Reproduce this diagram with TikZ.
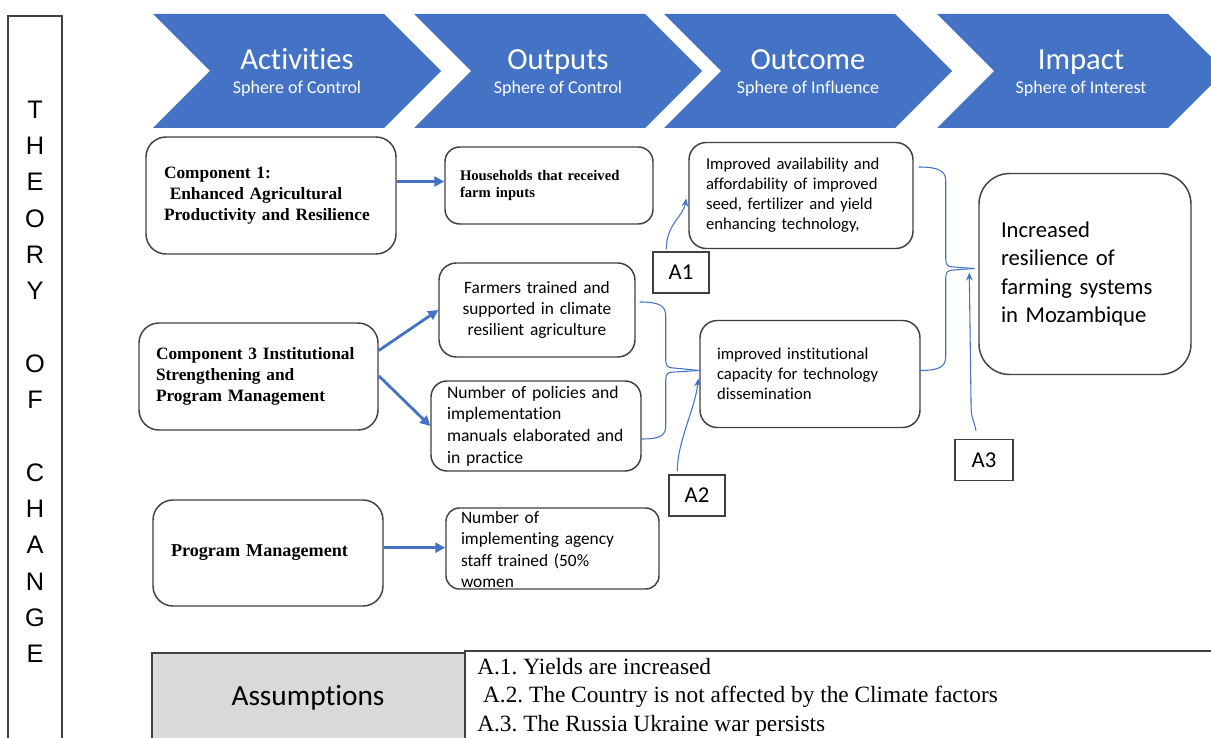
\documentclass[tikz,border=0pt]{standalone}
\usepackage{fontspec}
\setmainfont{Carlito}[Ligatures={NoCommon,NoRare,NoDiscretionary}]
\newfontfamily\timesfont{Liberation Serif}
\newfontfamily\arialfont{Liberation Sans}
\usetikzlibrary{arrows.meta,calc}
\definecolor{chevblue}{HTML}{4472C4}
\definecolor{linkblue}{HTML}{4472C4}
\definecolor{edgegray}{HTML}{404040}
\definecolor{cellgray}{HTML}{D9D9D9}
\newcommand\fsz[2]{\fontsize{#1}{#2}\selectfont}
\frenchspacing

\begin{document}
\begin{tikzpicture}[x=0.75pt,y=-0.75pt,
  rbox/.style={draw=edgegray, line width=1.1pt, rounded corners=12pt, inner ysep=0pt},
  sqbox/.style={draw=edgegray, line width=1.1pt, inner sep=0pt,
    minimum width=42pt, minimum height=30.75pt, font=\fsz{17}{20}},
  bolds/.style={font=\timesfont\bfseries\fsz{13}{16}, align=left},
  bigarrow/.style={draw=chevblue, line width=2.1pt, -{Triangle[length=7.5pt,width=7.5pt]}},
  thinlink/.style={draw=linkblue, line width=0.8pt},
  thinarrow/.style={thinlink, -{Stealth[length=6pt,width=5pt]}}]
\useasboundingbox (0,0) rectangle (1211,738);

% header chevrons
\foreach \x/\ttl/\sph/\nm in {153/Activities/Control/ca, 414/Outputs/Control/co,
                              664/Outcome/Influence/cu, 937/Impact/Interest/ci}{
  \fill[chevblue] (\x,14) -- (\x+231,14) -- (\x+288,71) -- (\x+231,128)
                  -- (\x,128) -- (\x+57,71) -- cycle;
  \node[text=white, anchor=base, font=\fsz{23}{27}, inner sep=0pt] (\nm-title) at (\x+144,70) {\ttl};
  \node[text=white, anchor=base, font=\fsz{13.5}{16}, inner sep=0pt] (\nm-sub) at (\x+144,94) {Sphere of \sph};
}

% side column
\draw[edgegray, line width=1pt] (8,745) -- (8,16) -- (62,16) -- (62,745);
\foreach \c/\k in {T/0,H/1,E/2,O/3,R/4,Y/5,O/7,F/8,C/10,H/11,A/12,N/13,G/14,E/15}
  \node[font=\arialfont\fsz{19}{22}, inner sep=0pt] (toc\k) at (35,{109.5+\k*36.3}) {\c};

% activities
\node[rbox, bolds, rounded corners=15pt, minimum height=87.75pt, inner xsep=13.5pt, text width=160.5pt]
  (c1) at (271,195.5) {Component 1:\\\ Enhanced Agricultural\\Productivity and Resilience};
\node[rbox, bolds, rounded corners=15pt, minimum height=80.25pt, inner xsep=12.75pt, text width=153.75pt]
  (c3) at (258.5,376.5) {Component 3 Institutional\\Strengthening and\\Program Management};
\node[rbox, bolds, font=\timesfont\bfseries\fsz{13.6}{16}, rounded corners=15pt, minimum height=79.5pt,
  inner xsep=13.5pt, text width=145.5pt]
  (pm) at (268,553) {Program Management};

% outputs
\node[rbox, font=\timesfont\bfseries\fsz{11}{12.75}, align=left, rounded corners=11pt,
  minimum height=57.75pt, inner xsep=11.25pt, text width=133.5pt]
  (hh) at (549,185.5) {Households that received\\farm inputs};
\node[rbox, font=\fsz{13}{15.75}, align=center, rounded corners=13pt,
  minimum height=70.5pt, inner xsep=7.5pt, text width=132pt]
  (farm) at (537,310) {Farmers trained and\\supported in climate\\resilient agriculture};
\node[rbox, font=\fsz{13.2}{16.3}, align=left, rounded corners=12pt,
  minimum height=67.5pt, inner xsep=12pt, text width=133.5pt]
  (pol) at (536,426) {Number of policies and\\implementation\\manuals elaborated and\\in practice};
\node[rbox, rounded corners=10pt, minimum height=60.75pt, minimum width=159.75pt]
  (impl) at (552.5,548.5) {};
\node[font=\fsz{13}{16}, align=left, inner sep=0pt, text width=137.25pt]
  (impl-text) at ($(impl.center)+(0,1)$) {Number of\\implementing agency\\staff trained (50\%\\women};

% outcomes
\node[rbox, font=\fsz{12.5}{15}, align=left, rounded corners=13pt,
  minimum height=79.5pt, inner xsep=12.75pt, text width=142.5pt]
  (av) at (801,195.5) {Improved availability and\\affordability of improved\\seed, fertilizer and yield\\enhancing technology,};
\node[rbox, font=\fsz{12.5}{15}, align=left, rounded corners=13pt,
  minimum height=80.25pt, inner xsep=12.75pt, text width=139.5pt]
  (inst) at (810,374) {improved institutional\\capacity for technology\\dissemination};

% impact
\node[rbox, font=\fsz{17}{21.3}, align=left, rounded corners=23pt,
  minimum height=150.75pt, inner xsep=16.5pt, text width=126pt]
  (res) at (1085,274) {Increased\\resilience of\\farming systems\\in Mozambique};

% assumption markers
\node[sqbox] (a1) at (681,272.5) {A1};
\node[sqbox] (a2) at (697,495.5) {A2};
\node[sqbox, minimum width=43.5pt] (a3) at (984,460) {A3};

% activity -> output arrows
\draw[bigarrow] ([yshift=10.5pt]c1.east) -- ([yshift=10.5pt]c1.east -| hh.west);
\draw[bigarrow] ([yshift=19.5pt]c3.east) -- (farm.west);
\draw[bigarrow] ([yshift=0.5pt]c3.east) -- (pol.west);
\draw[bigarrow] ([yshift=4pt]pm.east) -- ([yshift=4pt]pm.east -| impl.west);

% brace links into outcomes and impact
\coordinate (jl) at ($(inst.west)+(0,-3.5)$);
\coordinate (jr) at ($(res.west)+(-4,-5.5)$);
\draw[thinlink] ($(farm.east)+(4,-8)$) .. controls +(20,0) and +(0,-10) .. ++(26,14)
  -- ++(0,44) .. controls +(0,6) and +(-6,0) .. ++(8,8) -- (jl);
\draw[thinlink] ($(pol.east)+(0,13)$) .. controls +(20,0) and +(0,10) .. ++(24,-14)
  -- ++(0,-45) .. controls +(0,-6) and +(-6,0) .. ++(8,-8) -- (jl);
\draw[thinlink] ($(av.east)+(5,-28.5)$) .. controls +(20,0) and +(0,-10) .. ++(27,14)
  -- ++(0,78) .. controls +(0,6) and +(-6,0) .. ++(8,8) -- (jr);
\draw[thinlink] ($(inst.east)+(-1,-3.5)$) .. controls +(20,0) and +(0,10) .. ++(26,-14)
  -- ++(0,-78.5) .. controls +(0,-6) and +(-6,0) .. ++(8,-8) -- (jr);

% assumption arrows
\draw[thinarrow] ($(a1.north west)+(14,-2)$) .. controls +(0,-25) and +(-3,18) .. ($(av.west)+(-2,3)$);
\draw[thinarrow] ($(a2.north west)+(9,-3)$) .. controls +(0,-30) and +(-3,30) .. ($(inst.west)+(-1,4.5)$);
\draw[thinarrow] ($(a3.north)+(-8,-8)$) .. controls +(-3,-15) and +(0,20) .. ++(-5,-30) -- ($(res.west)+(-9,-1.5)$);

% assumptions table
\fill[cellgray] (152,653) rectangle (465,760);
\draw[edgegray, line width=1pt] (152,760) -- (152,653) -- (465,653);
\draw[edgegray, line width=1pt] (465,760) -- (465,651) -- (1215,651) -- (1215,760);
\node[font=\fsz{22}{26}, inner sep=0pt] (asm-head) at (308,698) {Assumptions};
\node[font=\timesfont\fsz{17.5}{21.4}, align=left, anchor=west, inner sep=0pt]
  (asm-list) at (477,697) {A.1. Yields are increased\\\ A.2. The Country is not affected by the Climate factors\\A.3. The Russia Ukraine war persists};
\end{tikzpicture}
\end{document}
